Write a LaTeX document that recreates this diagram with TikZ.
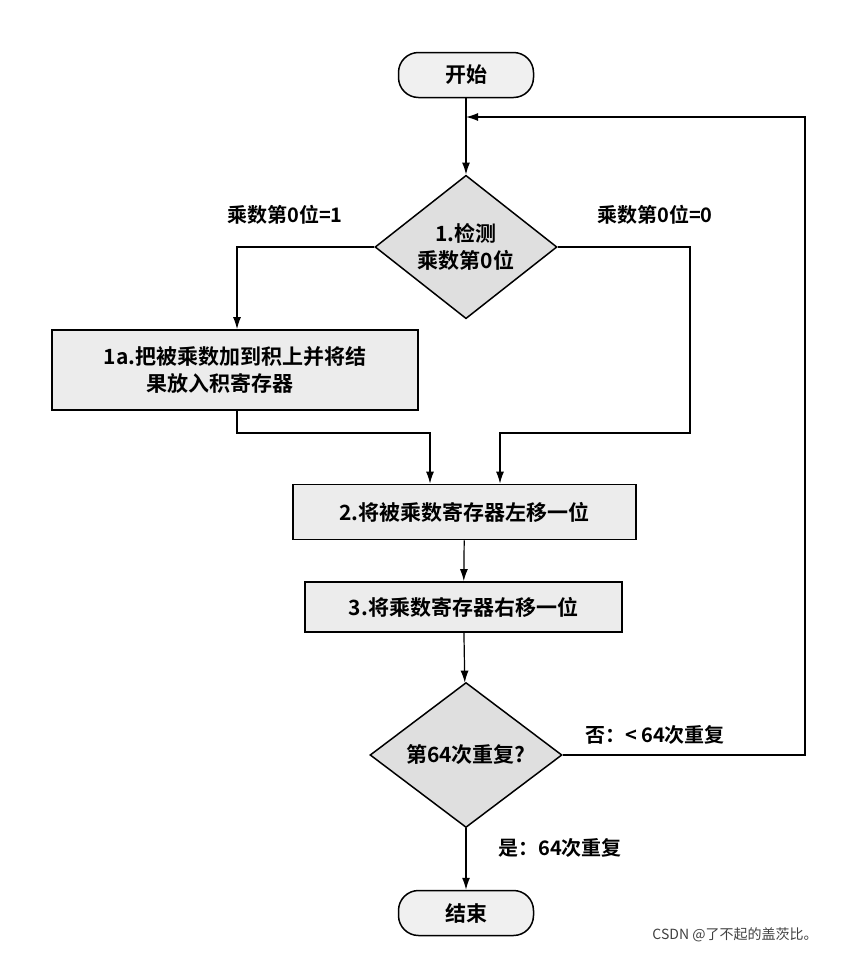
\documentclass[tikz,border=0pt]{standalone}
\usepackage{fontspec}
\setmainfont{Noto Sans CJK SC}[BoldFont={Noto Sans CJK SC Bold}]
\usetikzlibrary{shapes.geometric,arrows.meta}
\begin{document}
\begin{tikzpicture}[x=1pt,y=-1pt,
  every node/.style={font=\fontsize{21}{27}\selectfont\bfseries},
  term/.style={draw,line width=1.5pt,rounded corners=20pt,fill=gray!12,minimum width=135pt,minimum height=45pt,inner sep=0pt},
  box/.style={draw,line width=1.8pt,fill=gray!15,inner sep=0pt},
  dia/.style={draw,line width=1.5pt,fill=gray!25,diamond,inner sep=0pt},
  lab/.style={font=\fontsize{20}{24}\selectfont\bfseries},
  arr/.style={line width=1.2pt,-{Latex[length=12pt,width=8pt]}}]
\useasboundingbox (0,0) rectangle (858,954);
\node[term] (start) at (466,75) {开始};
\node[dia,minimum width=182pt,minimum height=135pt,align=center] (d1) at (466,247) {1.检测\\乘数第0位};
\node[lab] (l1) at (285,215) {乘数第0位=1};
\node[lab] (l0) at (655,215) {乘数第0位=0};
\node[box,minimum width=366pt,minimum height=80pt,align=left] (b1) at (235,370) {1a.把被乘数加到积上并将结\\\hspace*{2.05em}果放入积寄存器};
\node[box,minimum width=343pt,minimum height=55pt] (b2) at (464.5,512) {2.将被乘数寄存器左移一位};
\node[box,minimum width=317pt,minimum height=50pt] (b3) at (463.5,607) {3.将乘数寄存器右移一位};
\node[dia,minimum width=192pt,minimum height=145pt] (d2) at (466,755) {第64次重复?};
\node[lab] (lno) at (655,735) {否：< 64次重复};
\node[lab] (lyes) at (560,848) {是：64次重复};
\node[term] (end) at (466,913) {结束};
\node[font=\fontsize{14}{17}\selectfont,text=black!75] (wm) at (735,935) {CSDN @了不起的盖茨比。};
\coordinate (j1) at (237,433);
\coordinate (j2) at (690,433);
\coordinate (top) at (466,117);
\draw[arr] (start) -- (d1);
\draw[arr] (d1.west) -| (b1.north -| j1);
\draw[arr] (b1.south -| j1) -- (j1) -| (b2.north -| 430,0);
\draw[arr] (d1.east) -| (j2) -| (b2.north -| 500,0);
\draw[arr] (b2) -- (b3);
\draw[arr] (b3) -- (d2);
\draw[arr] (d2) -- (end);
\draw[arr] (d2.east) -| (805,117) -- (top);
\end{tikzpicture}
\end{document}
